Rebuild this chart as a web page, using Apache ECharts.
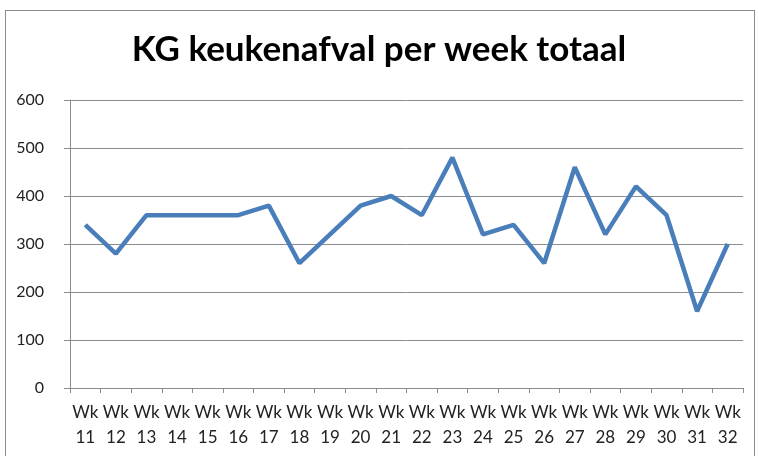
<!DOCTYPE html>
<html>
<head>
<meta charset="utf-8">
<script src="https://cdn.jsdelivr.net/npm/echarts@6/dist/echarts.min.js"></script>
<style>
  html, body { margin: 0; padding: 0; background: #fff; }
  #frame {
    position: absolute; left: 5px; top: 10px;
    width: 750px; height: 460px;
    border: 1px solid #8c8c8c; box-sizing: border-box;
  }
  #chart { position: absolute; left: 0; top: 0; width: 758px; height: 456px; }
</style>
</head>
<body>
<div id="frame"></div>
<div id="chart"></div>
<script>
const weeks = ['11', '12', '13', '14', '15', '16', '17', '18', '19', '20', '21',
  '22', '23', '24', '25', '26', '27', '28', '29', '30', '31', '32']
const kgValues = [340, 280, 360, 360, 360, 360, 380, 260, 320, 380, 400,
  360, 480, 320, 340, 260, 460, 320, 420, 360, 160, 300]
const yTicks = [0, 100, 200, 300, 400, 500, 600]

const chart = echarts.init(document.getElementById('chart'))

chart.setOption({
  animation: false,
  title: {
    text: 'KG keukenafval per week totaal',
    left: 'center',
    top: 27,
    textStyle: { fontFamily: 'Lato', fontWeight: 'bold', fontSize: 35, color: '#000' }
  },
  grid: { left: 70, right: 15, top: 100, bottom: 68 },
  xAxis: {
    type: 'category',
    data: weeks.map(w => 'Wk\n' + w),
    boundaryGap: true,
    axisLine: { lineStyle: { color: '#8c8c8c', width: 1 } },
    axisTick: { show: true, length: 5, lineStyle: { color: '#8c8c8c' } },
    axisLabel: {
      interval: 0,
      margin: 12,
      fontFamily: 'Lato',
      fontSize: 17,
      lineHeight: 25,
      color: '#222'
    }
  },
  yAxis: {
    type: 'value',
    min: yTicks[0],
    max: yTicks[yTicks.length - 1],
    interval: 100,
    axisLine: { show: true, lineStyle: { color: '#8c8c8c' } },
    axisTick: { show: true, length: 6, lineStyle: { color: '#8c8c8c' } },
    splitLine: { lineStyle: { color: '#8c8c8c', width: 1 } },
    axisLabel: { margin: 26, fontFamily: 'Lato', fontSize: 16, color: '#222' }
  },
  series: [
    {
      type: 'line',
      data: kgValues,
      showSymbol: false,
      lineStyle: { color: '#4a7ebb', width: 4.5 },
      itemStyle: { color: '#4a7ebb' }
    }
  ]
})
</script>
</body>
</html>
